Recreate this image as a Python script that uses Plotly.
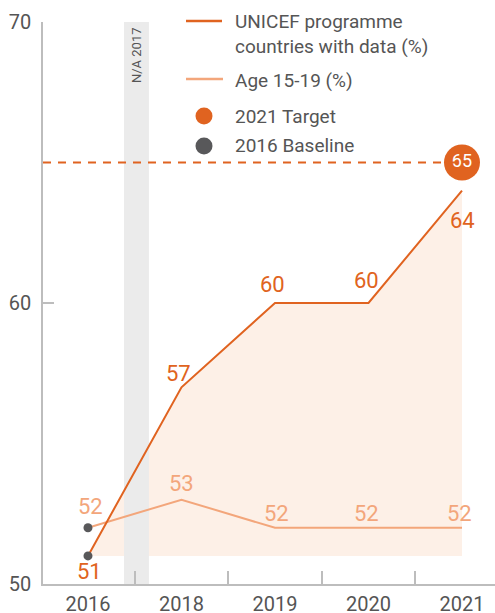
import plotly.graph_objects as go

# ---- data ----
categories = ["2016", "2018", "2019", "2020", "2021"]
programme_pct = [51, 57, 60, 60, 64]
age_15_19_pct = [52, 53, 52, 52, 52]
target_2021 = 65
baseline_2016 = [52, 51]
y_ticks = [50, 60, 70]

# ---- styles ----
ORANGE = "#E06320"
LIGHT = "#F3A67B"
FILL = "#FDF0E7"
BAND = "#EBEBEB"
DOT = "#58585A"
TEXT = "#555555"
AXIS = "#BDBDBD"
FONT = "Roboto"

x = list(range(len(categories)))
floor = [programme_pct[0]] * len(x)

fig = go.Figure()

# fill under main line down to baseline
fig.add_trace(go.Scatter(x=x, y=floor, mode="lines", line=dict(width=0, color=FILL),
                         hoverinfo="skip", showlegend=False))
fig.add_trace(go.Scatter(x=x, y=programme_pct, mode="lines", line=dict(width=0, color=FILL),
                         fill="tonexty", fillcolor=FILL, hoverinfo="skip", showlegend=False))

# N/A 2017 band
bx0, bx1, by0, by1 = 0.385, 0.652, 50, 70.21
fig.add_trace(go.Scatter(x=[bx0, bx1, bx1, bx0, bx0], y=[by0, by0, by1, by1, by0],
                         mode="lines", line=dict(width=0), fill="toself", fillcolor=BAND,
                         hoverinfo="skip", showlegend=False))

# target dashed line
fig.add_shape(type="line", xref="paper", yref="y", x0=0, x1=(x[-1] + 0.481) / 4.834,
              y0=target_2021, y1=target_2021,
              line=dict(color=ORANGE, width=2, dash="8px,7px"))

# lines
fig.add_trace(go.Scatter(x=x, y=age_15_19_pct, mode="lines", line=dict(color=LIGHT, width=2),
                         hoverinfo="skip", showlegend=False))
fig.add_trace(go.Scatter(x=x, y=programme_pct, mode="lines", line=dict(color=ORANGE, width=2),
                         hoverinfo="skip", showlegend=False))

# baseline dots
fig.add_trace(go.Scatter(x=[x[0]] * len(baseline_2016), y=baseline_2016, mode="markers",
                         marker=dict(color=DOT, size=9), hoverinfo="skip", showlegend=False))

# target circle
fig.add_trace(go.Scatter(x=[x[-1]], y=[target_2021], mode="markers+text",
                         marker=dict(color=ORANGE, size=36),
                         text=[str(target_2021)], textposition="middle center",
                         textfont=dict(color="white", size=18, family=FONT),
                         hoverinfo="skip", showlegend=False))

# value labels
main_shift = [(2, -16), (-3, 14), (-2, 19), (-2, 23), (1, -30)]
for xi, v, (dx, dy) in zip(x, programme_pct, main_shift):
    fig.add_annotation(x=xi, y=v, text=str(v), showarrow=False, xshift=dx, yshift=dy,
                       font=dict(color=ORANGE, size=22, family=FONT))
light_shift = [(3, 21), (0, 16), (2, 14), (-2, 14), (-2, 14)]
for xi, v, (dx, dy) in zip(x, age_15_19_pct, light_shift):
    fig.add_annotation(x=xi, y=v, text=str(v), showarrow=False, xshift=dx, yshift=dy,
                       font=dict(color=LIGHT, size=22, family=FONT))

# N/A text
fig.add_annotation(x=0.513, y=69.89, text="N/A 2017", textangle=-90, showarrow=False,
                   xanchor="center", yanchor="top", font=dict(color=TEXT, size=13, family=FONT))

# ---- manual legend ----
def px(p):
    return (p - 43) / 452

def py(p):
    return (584 - p) / 562

LEG = 19
fig.add_shape(type="line", xref="paper", yref="paper", x0=px(186), x1=px(222), y0=py(21), y1=py(21),
              line=dict(color=ORANGE, width=2.5))
fig.add_annotation(xref="paper", yref="paper", x=px(233), y=py(34), xanchor="left", yanchor="middle",
                   text="UNICEF programme<br>countries with data (%)", align="left", showarrow=False,
                   font=dict(color=TEXT, size=LEG, family=FONT))
fig.add_shape(type="line", xref="paper", yref="paper", x0=px(186), x1=px(223), y0=py(79), y1=py(79),
              line=dict(color=LIGHT, width=2.5))
fig.add_annotation(xref="paper", yref="paper", x=px(233), y=py(80), xanchor="left", yanchor="middle",
                   text="Age 15-19 (%)", showarrow=False, font=dict(color=TEXT, size=LEG, family=FONT))
for cy, col, label in [(116, ORANGE, "2021 Target"), (146, DOT, "2016 Baseline")]:
    fig.add_shape(type="circle", xref="paper", yref="paper", xsizemode="pixel", ysizemode="pixel",
                  xanchor=px(204), yanchor=py(cy), x0=-8.5, x1=8.5, y0=-8.5, y1=8.5,
                  fillcolor=col, line=dict(width=0))
    fig.add_annotation(xref="paper", yref="paper", x=px(233), y=py(cy), xanchor="left", yanchor="middle",
                       text=label, showarrow=False, font=dict(color=TEXT, size=LEG, family=FONT))

fig.update_layout(
    width=495, height=613,
    margin=dict(l=43, r=0, t=22, b=29, autoexpand=False),
    paper_bgcolor="white", plot_bgcolor="white",
    showlegend=False,
    font=dict(family=FONT, color=TEXT),
    xaxis=dict(range=[-0.481, 4.353], tickvals=x, ticktext=categories, ticks="",
               automargin=False,
               showgrid=False, zeroline=False, showline=True, linecolor=AXIS, linewidth=1.5,
               tickfont=dict(size=20, color=TEXT, family=FONT), ticklabelstandoff=1,
               minor=dict(tickvals=[i + 0.5 for i in x[:-1]], ticks="inside", ticklen=13,
                          tickcolor=AXIS, tickwidth=1.5, showgrid=False)),
    yaxis=dict(range=[50, 70], tickvals=y_ticks, ticks="inside", ticklen=11, tickcolor=AXIS,
               automargin=False,
               tickwidth=1.5, showgrid=False, zeroline=False, showline=True, linecolor=AXIS,
               linewidth=1.5, tickfont=dict(size=20, color=TEXT, family=FONT), ticklabelstandoff=6),
)

fig.write_html("out.html", config={"displayModeBar": False},
               post_script="document.body.style.margin='0';document.body.style.overflow='hidden';")
